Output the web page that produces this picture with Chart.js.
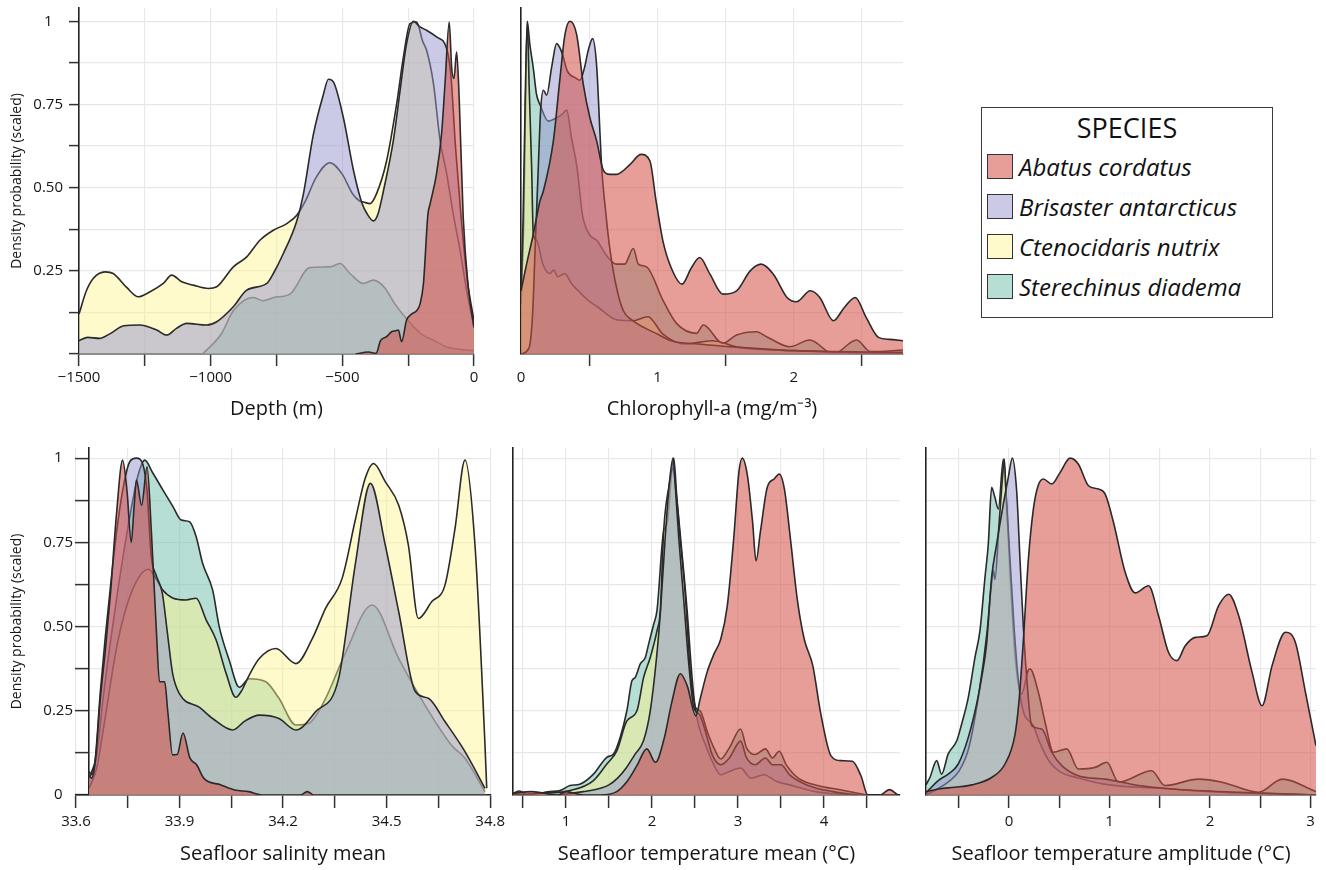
<!DOCTYPE html>
<html>
<head>
<meta charset="utf-8">
<title>Species density by environmental variable</title>
<script src="https://cdn.jsdelivr.net/npm/chart.js@4.4.1/dist/chart.umd.min.js"></script>
<style>
  body { margin: 0; background: #fff; font-family: 'Open Sans', sans-serif; }
  #page { position: relative; width: 1326px; height: 870px; overflow: hidden; background: #fff; }
  canvas { position: absolute; }
  #depthChart { left: 0; top: 0; }
  #chlChart { left: 490px; top: 0; }
  #salChart { left: 0; top: 440px; }
  #tempMeanChart { left: 500px; top: 440px; }
  #tempAmpChart { left: 910px; top: 440px; }
  #legend {
    position: absolute; left: 981px; top: 107px; width: 292px; height: 211px;
    box-sizing: border-box; border: 1.5px solid #3a3a3a; background: #fff;
  }
  #legend .lg-title { text-align: center; font-size: 27px; line-height: 36px; padding-top: 2px; color: #111; }
  #legend .lg-row { display: flex; align-items: center; height: 40px; }
  #legend .sw { width: 26px; height: 25px; box-sizing: border-box; border: 1.5px solid #333; margin-left: 5px; }
  #legend .lg-name { font-style: italic; font-size: 24px; margin-left: 6px; color: #111; white-space: nowrap; }
</style>
</head>
<body>
<div id="page">
  <canvas id="depthChart" width="490" height="425"></canvas>
  <canvas id="chlChart" width="430" height="425"></canvas>
  <canvas id="salChart" width="510" height="430"></canvas>
  <canvas id="tempMeanChart" width="410" height="430"></canvas>
  <canvas id="tempAmpChart" width="416" height="430"></canvas>
  <div id="legend"></div>
</div>
<script>
// Species, same order in every panel (first one is drawn on top)
const species = ['Abatus cordatus', 'Brisaster antarcticus', 'Ctenocidaris nutrix', 'Sterechinus diadema'];

// Density axis (scaled 0..1)
const densityTicks = [0, 0.125, 0.25, 0.375, 0.5, 0.625, 0.75, 0.875, 1];
const densityLabelsTop = ['', '', '0.25', '', '0.50', '', '0.75', '', '1'];
const densityLabelsBottom = ['0', '', '0.25', '', '0.50', '', '0.75', '', '1'];

// ---- Depth (m) ----
const depthTicks = [-1500, -1250, -1000, -750, -500, -250, 0];
const depthTickLabels = ['\u22121500', '', '\u22121000', '', '\u2212500', '', '0'];
const depthAbatus = [[-450,0],[-400,0.006],[-372,0.002],[-355,0.04],[-332,0.052],[-313,0.067],[-298,0.07],[-287,0.072],[-275,0.037],[-256,0.102],[-237,0.12],[-218,0.13],[-205,0.15],[-192,0.212],[-175,0.42],[-167,0.45],[-142,0.543],[-123,0.663],[-110,0.813],[-94,0.998],[-85,0.863],[-76,0.828],[-66,0.908],[-56,0.763],[-41,0.412],[-22,0.202],[0,0.08]];
const depthBrisaster = [[-1500,0.04],[-1467,0.05],[-1422,0.047],[-1380,0.062],[-1330,0.085],[-1270,0.087],[-1205,0.072],[-1167,0.057],[-1130,0.077],[-1091,0.092],[-1015,0.087],[-977,0.097],[-914,0.142],[-863,0.192],[-787,0.212],[-762,0.242],[-724,0.302],[-673,0.4],[-648,0.48],[-610,0.66],[-572,0.78],[-553,0.826],[-534,0.818],[-496,0.71],[-458,0.553],[-427,0.457],[-405,0.42],[-382,0.4],[-365,0.42],[-344,0.49],[-306,0.643],[-281,0.79],[-256,0.933],[-230,1.0],[-205,0.983],[-180,0.973],[-142,0.953],[-104,0.918],[-88,0.84],[-70,0.62],[-50,0.42],[-25,0.22],[0,0.1]];
const depthCtenocidaris = [[-1500,0.12],[-1472,0.19],[-1446,0.227],[-1401,0.247],[-1370,0.242],[-1319,0.2],[-1275,0.172],[-1230,0.187],[-1180,0.212],[-1148,0.237],[-1110,0.217],[-1066,0.207],[-1009,0.197],[-977,0.202],[-914,0.262],[-863,0.292],[-813,0.342],[-762,0.372],[-711,0.392],[-673,0.417],[-640,0.46],[-600,0.53],[-547,0.575],[-500,0.54],[-460,0.48],[-434,0.46],[-420,0.457],[-395,0.452],[-370,0.482],[-332,0.58],[-294,0.75],[-268,0.893],[-243,0.993],[-218,0.998],[-195,0.94],[-180,0.913],[-154,0.813],[-129,0.643],[-104,0.543],[-79,0.422],[-53,0.312],[-28,0.192],[0,0.08]];
const depthSterechinus = [[-1030,0],[-960,0.06],[-914,0.13],[-838,0.17],[-800,0.16],[-760,0.17],[-699,0.18],[-623,0.26],[-547,0.262],[-509,0.272],[-471,0.242],[-420,0.212],[-382,0.222],[-340,0.2],[-300,0.15],[-250,0.1],[-200,0.06],[-150,0.04],[-100,0.02],[0,0.01]];

// ---- Chlorophyll-a ----
const chlTicks = [0, 0.5, 1, 1.5, 2, 2.5];
const chlTickLabels = ['0', '', '1', '', '2', ''];
const chlTickMarks = [false, true, false, true, false, true];
const chlAbatus = [[0,0.19],[0.041,0.27],[0.09,0.36],[0.139,0.46],[0.164,0.49],[0.237,0.64],[0.286,0.83],[0.322,0.96],[0.359,1.0],[0.408,0.96],[0.457,0.81],[0.505,0.71],[0.555,0.64],[0.603,0.553],[0.652,0.54],[0.7,0.54],[0.8,0.57],[0.88,0.6],[0.945,0.58],[0.99,0.46],[1.04,0.34],[1.1,0.26],[1.18,0.21],[1.25,0.26],[1.31,0.29],[1.385,0.24],[1.48,0.18],[1.58,0.19],[1.68,0.25],[1.76,0.27],[1.85,0.24],[1.95,0.17],[2.02,0.157],[2.12,0.19],[2.19,0.17],[2.29,0.1],[2.37,0.14],[2.45,0.17],[2.53,0.11],[2.62,0.05],[2.7,0.044],[2.8,0.04]];
const chlBrisaster = [[0,0],[0.06,0.02],[0.085,0.12],[0.103,0.31],[0.127,0.563],[0.144,0.733],[0.164,0.793],[0.188,0.778],[0.225,0.863],[0.261,0.933],[0.298,0.908],[0.34,0.85],[0.4,0.83],[0.432,0.823],[0.465,0.86],[0.493,0.913],[0.525,0.948],[0.555,0.863],[0.579,0.663],[0.591,0.563],[0.62,0.43],[0.65,0.32],[0.7,0.2],[0.75,0.13],[0.82,0.1],[0.9,0.08],[1.0,0.06],[1.1,0.04],[1.3,0.03],[1.6,0.02],[2.0,0.01],[2.8,0.005]];
const chlCtenocidaris = [[0,0.2],[0.015,0.4],[0.03,0.75],[0.046,1.0],[0.06,0.8],[0.078,0.56],[0.09,0.36],[0.115,0.342],[0.16,0.27],[0.213,0.242],[0.24,0.252],[0.27,0.232],[0.32,0.242],[0.37,0.212],[0.415,0.192],[0.49,0.162],[0.56,0.142],[0.71,0.102],[0.82,0.1],[0.93,0.112],[1.04,0.06],[1.2,0.03],[1.4,0.04],[1.6,0.02],[2.0,0.01],[2.8,0]];
const chlSterechinus = [[0,0.15],[0.02,0.4],[0.035,0.8],[0.046,1.0],[0.065,0.93],[0.09,0.86],[0.114,0.78],[0.139,0.75],[0.2,0.7],[0.26,0.71],[0.3,0.72],[0.335,0.733],[0.37,0.65],[0.41,0.563],[0.45,0.42],[0.5,0.36],[0.56,0.34],[0.62,0.3],[0.7,0.27],[0.76,0.27],[0.823,0.317],[0.86,0.27],[0.92,0.262],[1.04,0.162],[1.14,0.092],[1.287,0.062],[1.336,0.087],[1.48,0.032],[1.58,0.057],[1.726,0.067],[1.8,0.052],[1.97,0.022],[2.117,0.042],[2.29,0],[2.46,0.042],[2.56,0.007],[2.8,0.012]];

// ---- Seafloor salinity mean ----
const salTicks = [33.6, 33.75, 33.9, 34.05, 34.2, 34.35, 34.5, 34.65, 34.8];
const salTickLabels = ['33.6', '', '33.9', '', '34.2', '', '34.5', '', '34.8'];
const salAbatus = [[33.638,0.06],[33.645,0.05],[33.656,0.1],[33.67,0.28],[33.685,0.43],[33.7,0.6],[33.717,0.83],[33.735,0.994],[33.748,0.9],[33.76,0.75],[33.768,0.85],[33.775,0.935],[33.79,0.86],[33.806,0.974],[33.818,0.79],[33.833,0.485],[33.842,0.336],[33.857,0.336],[33.866,0.247],[33.88,0.119],[33.893,0.12],[33.91,0.184],[33.93,0.11],[33.95,0.089],[33.97,0.05],[34.02,0.03],[34.06,0.015],[34.1,0.01],[34.14,0],[34.25,0],[34.27,0.01],[34.29,0],[34.8,0]];
const salBrisaster = [[33.638,0.07],[33.645,0.06],[33.656,0.11],[33.67,0.3],[33.685,0.47],[33.7,0.62],[33.72,0.8],[33.74,0.93],[33.756,0.99],[33.775,1.0],[33.794,0.98],[33.806,0.9],[33.818,0.71],[33.833,0.65],[33.85,0.6],[33.865,0.48],[33.88,0.36],[33.9,0.3],[33.958,0.26],[33.996,0.227],[34.054,0.193],[34.09,0.22],[34.131,0.237],[34.188,0.227],[34.237,0.193],[34.294,0.247],[34.361,0.346],[34.41,0.69],[34.453,0.925],[34.496,0.742],[34.535,0.544],[34.583,0.307],[34.621,0.287],[34.669,0.218],[34.727,0.129],[34.785,0.02]];
const salCtenocidaris = [[33.638,0.02],[33.66,0.08],[33.68,0.2],[33.72,0.45],[33.76,0.6],[33.81,0.67],[33.833,0.64],[33.85,0.61],[33.88,0.585],[33.919,0.579],[33.948,0.584],[33.977,0.52],[34.006,0.46],[34.035,0.361],[34.063,0.29],[34.08,0.31],[34.102,0.356],[34.131,0.405],[34.179,0.435],[34.237,0.39],[34.285,0.465],[34.323,0.554],[34.371,0.643],[34.41,0.82],[34.438,0.94],[34.462,0.984],[34.496,0.93],[34.535,0.86],[34.563,0.742],[34.592,0.524],[34.631,0.574],[34.669,0.623],[34.698,0.79],[34.727,0.994],[34.756,0.742],[34.785,0.148],[34.79,0.02]];
const salSterechinus = [[33.638,0.05],[33.66,0.12],[33.68,0.3],[33.72,0.6],[33.76,0.85],[33.78,0.95],[33.799,0.994],[33.823,0.955],[33.852,0.905],[33.881,0.856],[33.905,0.816],[33.929,0.811],[33.948,0.767],[33.967,0.687],[33.996,0.608],[34.015,0.5],[34.044,0.4],[34.073,0.32],[34.102,0.345],[34.15,0.336],[34.188,0.287],[34.237,0.208],[34.275,0.213],[34.32,0.28],[34.38,0.42],[34.458,0.564],[34.535,0.405],[34.611,0.267],[34.688,0.148],[34.727,0.109],[34.785,0.01]];

// ---- Seafloor temperature mean (°C) ----
const tempMeanTicks = [0.5, 1, 1.5, 2, 2.5, 3, 3.5, 4, 4.5];
const tempMeanTickLabels = ['', '1', '', '2', '', '3', '', '4', ''];
const tmAbatus = [[0.384,0.005],[0.6,0.01],[0.9,0],[1.0,0.01],[1.2,0],[1.4,0],[1.59,0.01],[1.71,0.04],[1.825,0.087],[1.94,0.137],[2.04,0.097],[2.14,0.166],[2.23,0.275],[2.33,0.36],[2.41,0.324],[2.51,0.235],[2.56,0.285],[2.64,0.364],[2.72,0.418],[2.8,0.463],[2.875,0.56],[2.95,0.76],[3.01,0.957],[3.05,1.0],[3.11,0.948],[3.17,0.81],[3.21,0.695],[3.26,0.78],[3.34,0.913],[3.42,0.938],[3.48,0.953],[3.54,0.908],[3.61,0.76],[3.69,0.58],[3.77,0.463],[3.87,0.384],[3.96,0.245],[4.08,0.117],[4.2,0.102],[4.33,0.1],[4.43,0.057],[4.51,0],[4.65,0],[4.76,0.016],[4.86,0]];
const tmBrisaster = [[0.9,0],[1.2,0.01],[1.4,0.02],[1.5,0.03],[1.6,0.05],[1.7,0.08],[1.8,0.12],[1.9,0.16],[1.98,0.25],[2.05,0.4],[2.1,0.55],[2.15,0.75],[2.2,0.92],[2.245,1.0],[2.27,0.92],[2.311,0.765],[2.37,0.577],[2.428,0.389],[2.486,0.26],[2.55,0.24],[2.62,0.19],[2.7,0.12],[2.8,0.09],[2.9,0.11],[3.03,0.16],[3.1,0.11],[3.2,0.09],[3.32,0.11],[3.4,0.09],[3.5,0.09],[3.6,0.06],[3.8,0.03],[4.1,0.01],[4.4,0]];
const tmCtenocidaris = [[0.384,0],[0.7,0.005],[1.047,0.013],[1.32,0.043],[1.475,0.092],[1.59,0.13],[1.708,0.22],[1.825,0.25],[1.903,0.349],[1.98,0.408],[2.058,0.487],[2.097,0.547],[2.136,0.784],[2.2,0.92],[2.245,0.97],[2.28,0.9],[2.33,0.755],[2.389,0.587],[2.447,0.36],[2.5,0.262],[2.55,0.2],[2.62,0.15],[2.7,0.1],[2.8,0.06],[2.9,0.07],[3.03,0.08],[3.15,0.05],[3.3,0.06],[3.45,0.04],[3.6,0.03],[3.9,0.01],[4.3,0]];
const tmSterechinus = [[0.384,0.005],[0.46,0.012],[0.55,0],[0.81,0.01],[0.93,0.013],[1.047,0.028],[1.16,0.032],[1.32,0.062],[1.475,0.112],[1.553,0.122],[1.63,0.171],[1.708,0.25],[1.767,0.339],[1.805,0.349],[1.864,0.389],[1.922,0.408],[1.961,0.448],[2.02,0.507],[2.058,0.547],[2.136,0.784],[2.175,0.804],[2.253,1.0],[2.29,0.88],[2.33,0.77],[2.408,0.55],[2.466,0.35],[2.506,0.26],[2.56,0.25],[2.64,0.19],[2.72,0.14],[2.8,0.107],[2.9,0.14],[3.03,0.196],[3.1,0.14],[3.2,0.12],[3.32,0.137],[3.4,0.11],[3.48,0.13],[3.56,0.09],[3.7,0.05],[3.9,0.03],[4.2,0.015],[4.5,0]];

// ---- Seafloor temperature amplitude (°C) ----
const tempAmpTicks = [-0.5, 0, 0.5, 1, 1.5, 2, 2.5, 3];
const tempAmpTickLabels = ['', '0', '', '1', '', '2', '', '3'];
const taAbatus = [[-0.826,0.01],[-0.7,0.018],[-0.54,0.023],[-0.37,0.03],[-0.173,0.052],[-0.04,0.092],[0.06,0.18],[0.1,0.28],[0.143,0.46],[0.193,0.7],[0.243,0.85],[0.292,0.92],[0.342,0.938],[0.425,0.923],[0.508,0.957],[0.608,1.0],[0.691,0.982],[0.791,0.918],[0.89,0.908],[0.957,0.893],[1.04,0.809],[1.156,0.661],[1.256,0.6],[1.389,0.621],[1.488,0.532],[1.588,0.423],[1.671,0.399],[1.754,0.443],[1.854,0.468],[1.97,0.473],[2.086,0.562],[2.186,0.596],[2.286,0.532],[2.419,0.364],[2.518,0.265],[2.618,0.384],[2.751,0.483],[2.85,0.453],[2.95,0.305],[3.055,0.146]];
const taBrisaster = [[-0.826,0.005],[-0.804,0.013],[-0.704,0.043],[-0.605,0.062],[-0.505,0.092],[-0.405,0.171],[-0.322,0.27],[-0.272,0.349],[-0.223,0.448],[-0.173,0.646],[-0.123,0.745],[-0.056,0.864],[-0.007,0.943],[0.033,1.0],[0.076,0.903],[0.11,0.695],[0.143,0.497],[0.176,0.349],[0.226,0.206],[0.326,0.196],[0.425,0.127],[0.525,0.087],[0.69,0.057],[0.957,0.047],[1.29,0.028],[1.62,0.018],[2.29,0.008],[3.05,0]];
const taCtenocidaris = [[-0.826,0],[-0.7,0.02],[-0.6,0.04],[-0.5,0.07],[-0.4,0.14],[-0.3,0.3],[-0.22,0.48],[-0.17,0.64],[-0.156,0.666],[-0.14,0.64],[-0.1,0.8],[-0.06,0.96],[-0.047,0.997],[-0.03,0.9],[0,0.75],[0.05,0.5],[0.1,0.32],[0.15,0.24],[0.2,0.22],[0.25,0.2],[0.3,0.16],[0.4,0.1],[0.5,0.07],[0.7,0.05],[1.0,0.03],[1.5,0.02],[2.0,0.01],[3.05,0]];
const taSterechinus = [[-0.826,0.03],[-0.787,0.052],[-0.72,0.102],[-0.671,0.062],[-0.605,0.122],[-0.52,0.161],[-0.472,0.21],[-0.405,0.29],[-0.339,0.408],[-0.289,0.488],[-0.239,0.646],[-0.206,0.745],[-0.173,0.913],[-0.14,0.883],[-0.106,0.849],[-0.056,0.997],[-0.023,0.859],[0.01,0.66],[0.06,0.413],[0.126,0.3],[0.19,0.37],[0.209,0.374],[0.292,0.305],[0.359,0.216],[0.442,0.127],[0.575,0.137],[0.69,0.077],[0.857,0.082],[0.973,0.097],[1.09,0.038],[1.42,0.072],[1.55,0.028],[1.887,0.047],[2.12,0.038],[2.485,0.008],[2.72,0.047],[3.055,0.01]];

// Styles
const fillColors = ['rgba(212,78,70,0.55)', 'rgba(150,150,205,0.5)', 'rgba(255,245,140,0.45)', 'rgba(110,190,170,0.5)'];
const lineColor = '#2a2a2a';
const gridColor = '#e8e8e8';
const inkColor = '#151515';
const axisColor = '#222';

Chart.defaults.font.family = "'Open Sans', sans-serif";
Chart.defaults.color = inkColor;

function setTicks(values) {
  return scale => { scale.ticks = values.map(v => ({ value: v })); };
}

function buildPanel(cfg) {
  const ctx = document.getElementById(cfg.id).getContext('2d');

  const datasets = cfg.series.map((pts, i) => ({
    label: species[i],
    data: pts.map(p => ({ x: p[0], y: p[1] })),
    fill: 'origin',
    backgroundColor: fillColors[i],
    borderColor: lineColor,
    borderWidth: 1.6,
    pointRadius: 0,
    cubicInterpolationMode: 'monotone'
  }));

  const hasLabels = !!cfg.yLabels;
  const shifted = cfg.yAxisAt !== undefined; // y axis line not at the left edge

  const scales = {
    x: {
      type: 'linear',
      min: cfg.xMin,
      max: cfg.xMax,
      afterBuildTicks: setTicks(cfg.xTicks),
      afterFit: s => { s.height = cfg.xHeight; },
      ticks: {
        autoSkip: false, maxRotation: 0, padding: cfg.xTickPad,
        font: { size: 15 }, color: inkColor,
        callback: (v, i) => cfg.xLabels[i]
      },
      grid: {
        color: gridColor, lineWidth: 1.2, tickLength: cfg.xTickLen, tickWidth: 1.5,
        tickColor: c => (cfg.xMarks && !cfg.xMarks[c.index]) ? 'rgba(0,0,0,0)' : '#333'
      },
      border: { color: axisColor, width: 1.6 },
      title: { display: true, text: cfg.xTitle, color: inkColor, font: { size: 20 }, padding: { top: 4, bottom: 4 } }
    },
    y: {
      min: 0,
      max: cfg.yMax,
      afterBuildTicks: setTicks(densityTicks),
      // fixed axis width; labels may hang over the top/bottom of the plot
      afterFit: s => { s.width = cfg.yWidth; s.paddingTop = 0; s.paddingBottom = 0; },
      ticks: {
        display: hasLabels, crossAlign: 'center', padding: cfg.yTickPad || 0,
        font: { size: 15, lineHeight: 1.1 }, color: inkColor,
        callback: (v, i) => hasLabels ? cfg.yLabels[i] : ''
      },
      grid: {
        display: !shifted, color: gridColor, lineWidth: 1.2,
        drawTicks: hasLabels && !shifted, tickLength: cfg.yTickLen || 0, tickWidth: 1.5, tickColor: '#333'
      },
      border: { display: !shifted, color: axisColor, width: 1.6 },
      title: {
        display: hasLabels, text: 'Density probability (scaled)', color: inkColor,
        font: { size: 14 }, padding: { top: 9, bottom: 0 }
      }
    }
  };

  // salinity panel: the axis line sits a little inside the x range
  if (shifted) {
    scales.yLine = {
      axis: 'y',
      position: { x: cfg.yAxisAt },
      min: 0,
      max: cfg.yMax,
      afterBuildTicks: setTicks(densityTicks),
      ticks: { display: false },
      grid: { color: gridColor, lineWidth: 1.2, tickLength: 13, tickWidth: 1.5, tickColor: '#333' },
      border: { color: axisColor, width: 1.6 }
    };
  }

  return new Chart(ctx, {
    type: 'line',
    data: { datasets },
    options: {
      responsive: false,
      animation: false,
      events: [],
      layout: { padding: { left: 0, right: cfg.padRight, top: cfg.padTop, bottom: 0 } },
      plugins: { legend: { display: false }, tooltip: { enabled: false } },
      scales
    }
  });
}

buildPanel({
  id: 'depthChart', xTitle: 'Depth (m)',
  xMin: -1500, xMax: 0, xTicks: depthTicks, xLabels: depthTickLabels,
  series: [depthAbatus, depthBrisaster, depthCtenocidaris, depthSterechinus],
  yMax: 1.04, yLabels: densityLabelsTop, yWidth: 79, yTickLen: 10, yTickPad: 6,
  xHeight: 71, xTickLen: 12, xTickPad: 3, padRight: 16, padTop: 8
});

buildPanel({
  id: 'chlChart', xTitle: 'Chlorophyll-a (mg/m\u207B\u00B3)',
  xMin: 0, xMax: 2.8, xTicks: chlTicks, xLabels: chlTickLabels, xMarks: chlTickMarks,
  series: [chlAbatus, chlBrisaster, chlCtenocidaris, chlSterechinus],
  yMax: 1.04, yWidth: 31,
  xHeight: 71, xTickLen: 12, xTickPad: 3, padRight: 17, padTop: 8
});

buildPanel({
  id: 'salChart', xTitle: 'Seafloor salinity mean',
  xMin: 33.6, xMax: 34.8, xTicks: salTicks, xLabels: salTickLabels,
  series: [salAbatus, salBrisaster, salCtenocidaris, salSterechinus],
  yMax: 1.03, yLabels: densityLabelsBottom, yWidth: 76, yTickPad: 3, yAxisAt: 33.6375,
  xHeight: 75, xTickLen: 13, xTickPad: 5, padRight: 19, padTop: 8
});

buildPanel({
  id: 'tempMeanChart', xTitle: 'Seafloor temperature mean (\u00B0C)',
  xMin: 0.384, xMax: 4.884, xTicks: tempMeanTicks, xLabels: tempMeanTickLabels,
  series: [tmAbatus, tmBrisaster, tmCtenocidaris, tmSterechinus],
  yMax: 1.03, yWidth: 13,
  xHeight: 75, xTickLen: 13, xTickPad: 5, padRight: 10, padTop: 8
});

buildPanel({
  id: 'tempAmpChart', xTitle: 'Seafloor temperature amplitude (\u00B0C)',
  xMin: -0.826, xMax: 3.055, xTicks: tempAmpTicks, xLabels: tempAmpTickLabels,
  series: [taAbatus, taBrisaster, taCtenocidaris, taSterechinus],
  yMax: 1.03, yWidth: 16,
  xHeight: 75, xTickLen: 13, xTickPad: 5, padRight: 10, padTop: 8
});

// Legend box
const legend = document.getElementById('legend');
legend.innerHTML = '<div class="lg-title">SPECIES</div>' + species.map((name, i) =>
  `<div class="lg-row"><span class="sw" style="background:${fillColors[i]}"></span><span class="lg-name">${name}</span></div>`
).join('');
</script>
</body>
</html>
